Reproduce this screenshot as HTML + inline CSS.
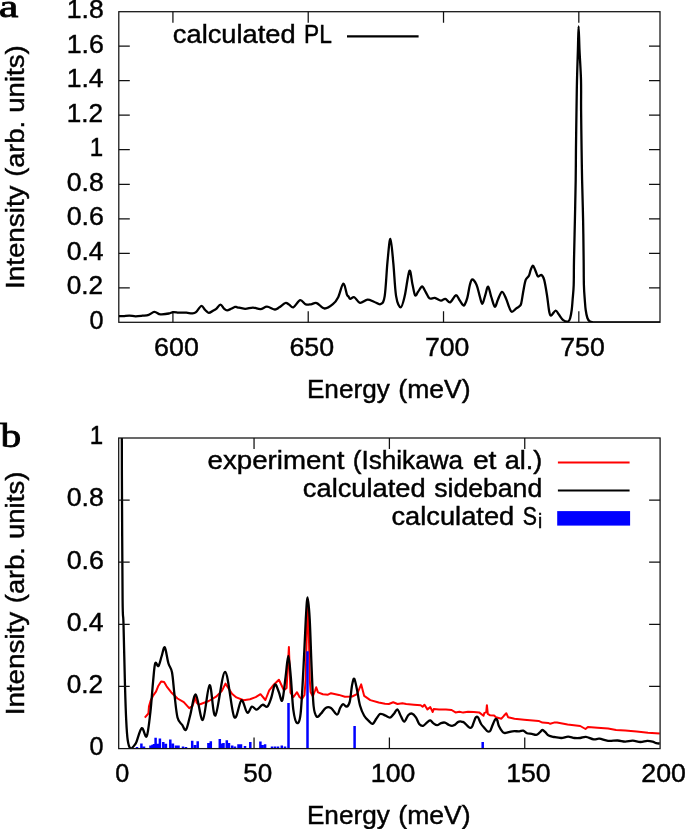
<!DOCTYPE html>
<html><head><meta charset="utf-8"><title>PL spectrum</title>
<style>html,body{margin:0;padding:0;background:#fff;width:685px;height:829px;overflow:hidden}svg{display:block}</style>
</head><body>
<svg width="685" height="829" viewBox="0 0 685 829">
<rect width="685" height="829" fill="#fff"/>
<path d="M172.92,322.30V311.30M172.92,11.70V22.70M308.22,322.30V311.30M308.22,11.70V22.70M443.52,322.30V311.30M443.52,11.70V22.70M578.82,322.30V311.30M578.82,11.70V22.70M118.80,287.79H129.80M660.00,287.79H649.00M118.80,253.28H129.80M660.00,253.28H649.00M118.80,218.77H129.80M660.00,218.77H649.00M118.80,184.26H129.80M660.00,184.26H649.00M118.80,149.74H129.80M660.00,149.74H649.00M118.80,115.23H129.80M660.00,115.23H649.00M118.80,80.72H129.80M660.00,80.72H649.00M118.80,46.21H129.80M660.00,46.21H649.00" stroke="#111" stroke-width="1.25" fill="none"/>
<rect x="118.80" y="11.70" width="541.20" height="310.60" stroke="#111" stroke-width="1.25" fill="none"/>
<clipPath id="ca"><rect x="118.8" y="11.7" width="541.2" height="310.6"/></clipPath>
<path d="M118.90,316.10 C119.63,316.10 121.55,316.18 123.30,316.10 C125.05,316.02 127.37,315.57 129.40,315.60 C131.43,315.63 133.32,316.28 135.50,316.30 C137.68,316.32 140.30,315.95 142.50,315.70 C144.70,315.45 146.73,315.43 148.70,314.80 C150.67,314.17 152.55,312.02 154.30,311.90 C156.05,311.78 157.95,313.68 159.20,314.10 C160.45,314.52 160.20,314.50 161.80,314.40 C163.40,314.30 166.90,313.88 168.80,313.50 C170.70,313.12 171.67,312.25 173.20,312.10 C174.73,311.95 176.82,312.50 178.00,312.60 C179.18,312.70 178.90,312.68 180.30,312.70 C181.70,312.72 184.43,312.58 186.40,312.70 C188.37,312.82 190.50,313.48 192.10,313.40 C193.70,313.32 194.47,313.43 196.00,312.20 C197.53,310.97 199.77,306.37 201.30,306.00 C202.83,305.63 203.97,308.85 205.20,310.00 C206.43,311.15 207.32,312.83 208.70,312.90 C210.08,312.97 212.25,311.08 213.50,310.40 C214.75,309.72 215.03,309.75 216.20,308.80 C217.37,307.85 219.20,304.73 220.50,304.70 C221.80,304.67 222.90,307.65 224.00,308.60 C225.10,309.55 225.92,310.37 227.10,310.40 C228.28,310.43 229.78,309.38 231.10,308.80 C232.42,308.22 233.97,307.15 235.00,306.90 C236.03,306.65 235.62,306.98 237.30,307.30 C238.98,307.62 242.48,308.75 245.10,308.80 C247.72,308.85 250.43,307.55 253.00,307.60 C255.57,307.65 258.17,309.25 260.50,309.10 C262.83,308.95 264.60,306.63 267.00,306.70 C269.40,306.77 272.85,309.40 274.90,309.50 C276.95,309.60 277.55,308.38 279.30,307.30 C281.05,306.22 283.78,303.47 285.40,303.00 C287.02,302.53 287.65,303.80 289.00,304.50 C290.35,305.20 291.65,307.92 293.50,307.20 C295.35,306.48 298.05,300.67 300.10,300.20 C302.15,299.73 303.98,303.72 305.80,304.40 C307.62,305.08 309.18,304.52 311.00,304.30 C312.82,304.08 314.43,302.40 316.70,303.10 C318.97,303.80 321.90,308.32 324.60,308.50 C327.30,308.68 330.63,306.08 332.90,304.20 C335.17,302.32 336.47,300.63 338.20,297.20 C339.93,293.77 341.85,284.05 343.30,283.60 C344.75,283.15 346.03,292.35 346.90,294.50 C347.77,296.65 347.93,295.77 348.50,296.50 C349.07,297.23 349.33,298.78 350.30,298.90 C351.27,299.02 352.68,296.53 354.30,297.20 C355.92,297.87 357.80,302.48 360.00,302.90 C362.20,303.32 365.10,299.85 367.50,299.70 C369.90,299.55 372.20,301.27 374.40,302.00 C376.60,302.73 378.98,305.08 380.70,304.10 C382.42,303.12 383.57,303.17 384.70,296.10 C385.83,289.03 386.55,271.25 387.50,261.70 C388.45,252.15 389.43,238.62 390.40,238.80 C391.37,238.98 392.35,253.25 393.30,262.80 C394.25,272.35 394.87,288.68 396.10,296.10 C397.33,303.52 399.27,307.30 400.70,307.30 C402.13,307.30 403.25,302.18 404.70,296.10 C406.15,290.02 408.12,272.83 409.40,270.80 C410.68,268.77 411.45,279.82 412.40,283.90 C413.35,287.98 414.15,293.98 415.10,295.30 C416.05,296.62 416.93,293.27 418.10,291.80 C419.27,290.33 420.85,286.50 422.10,286.50 C423.35,286.50 424.37,289.82 425.60,291.80 C426.83,293.78 427.97,297.38 429.50,298.40 C431.03,299.42 432.90,297.52 434.80,297.90 C436.70,298.28 439.15,300.55 440.90,300.70 C442.65,300.85 443.77,298.53 445.30,298.80 C446.83,299.07 448.35,302.88 450.10,302.30 C451.85,301.72 454.27,295.73 455.80,295.30 C457.33,294.87 458.13,298.12 459.30,299.70 C460.47,301.28 461.92,303.95 462.80,304.80 C463.68,305.65 463.85,305.95 464.60,304.80 C465.35,303.65 466.42,301.23 467.30,297.90 C468.18,294.57 469.07,287.87 469.90,284.80 C470.73,281.73 471.20,279.50 472.30,279.50 C473.40,279.50 475.30,282.17 476.50,284.80 C477.70,287.43 478.53,292.12 479.50,295.30 C480.47,298.48 481.35,303.90 482.30,303.90 C483.25,303.90 484.23,298.17 485.20,295.30 C486.17,292.43 487.08,286.42 488.10,286.70 C489.12,286.98 490.18,293.67 491.30,297.00 C492.42,300.33 493.70,306.25 494.80,306.70 C495.90,307.15 496.72,302.18 497.90,299.70 C499.08,297.22 500.58,292.10 501.90,291.80 C503.22,291.50 504.57,295.27 505.80,297.90 C507.03,300.53 508.28,305.27 509.30,307.60 C510.32,309.93 510.73,311.77 511.90,311.90 C513.07,312.03 515.05,309.35 516.30,308.40 C517.55,307.45 518.58,307.03 519.40,306.20 C520.22,305.37 520.53,305.98 521.20,303.40 C521.87,300.82 522.65,294.62 523.40,290.70 C524.15,286.78 524.78,282.38 525.70,279.90 C526.62,277.42 528.07,277.47 528.90,275.80 C529.73,274.13 530.03,271.60 530.70,269.90 C531.37,268.20 532.15,265.60 532.90,265.60 C533.65,265.60 534.37,268.10 535.20,269.90 C536.03,271.70 536.85,275.57 537.90,276.40 C538.95,277.23 540.45,274.32 541.50,274.90 C542.55,275.48 543.28,276.52 544.20,279.90 C545.12,283.28 546.17,289.93 547.00,295.20 C547.83,300.47 548.53,308.10 549.20,311.50 C549.87,314.90 549.93,315.75 551.00,315.60 C552.07,315.45 554.32,310.82 555.60,310.60 C556.88,310.38 557.43,312.72 558.70,314.30 C559.97,315.88 561.62,318.90 563.20,320.10 C564.78,321.30 567.03,321.85 568.20,321.50 C569.37,321.15 569.62,319.92 570.20,318.00 C570.78,316.08 571.30,313.00 571.70,310.00 C572.10,307.00 572.27,304.17 572.60,300.00 C572.93,295.83 573.47,291.67 573.70,285.00 C573.93,278.33 573.80,270.83 574.00,260.00 C574.20,249.17 574.62,233.33 574.90,220.00 C575.18,206.67 575.53,191.67 575.70,180.00 C575.88,168.33 575.82,161.67 575.95,150.00 C576.08,138.33 576.33,121.67 576.50,110.00 C576.67,98.33 576.77,90.00 577.00,80.00 C577.23,70.00 577.63,58.95 577.90,50.00 C578.17,41.05 578.33,26.30 578.60,26.30 C578.87,26.30 579.10,41.05 579.50,50.00 C579.90,58.95 580.73,70.00 581.00,80.00 C581.27,90.00 581.00,98.33 581.10,110.00 C581.20,121.67 581.43,138.33 581.60,150.00 C581.77,161.67 581.85,168.33 582.10,180.00 C582.35,191.67 582.84,206.67 583.10,220.00 C583.36,233.33 583.52,249.17 583.65,260.00 C583.78,270.83 583.71,278.33 583.90,285.00 C584.09,291.67 584.50,295.83 584.80,300.00 C585.10,304.17 585.27,307.00 585.70,310.00 C586.13,313.00 586.72,316.08 587.40,318.00 C588.08,319.92 588.87,320.78 589.80,321.50 C590.73,322.22 591.30,322.17 593.00,322.30 C594.70,322.43 588.67,322.30 600.00,322.30 C611.33,322.30 650.83,322.30 661.00,322.30" stroke="#000" stroke-width="2.3" fill="none" stroke-linejoin="round" clip-path="url(#ca)"/>
<path d="M347,36.4H418.6" stroke="#000" stroke-width="2.2"/>
<clipPath id="cb"><rect x="118.7" y="438.0" width="541.4" height="310.6"/></clipPath>
<path d="M144.80,717.70 L148.40,713.50 L149.00,706.20 L150.60,700.80 L153.30,695.30 L156.00,691.70 L158.10,686.30 L161.10,681.50 L164.10,682.10 L166.60,686.30 L171.10,692.20 L177.50,698.50 L183.80,702.10 L189.20,708.20 L192.50,706.00 L194.50,700.00 L195.70,696.80 L196.60,702.50 L198.50,704.50 L200.10,704.30 L208.80,701.00 L216.10,696.70 L221.90,690.90 L225.50,683.60 L232.00,693.80 L236.40,697.40 L243.60,700.30 L250.00,699.30 L255.70,697.10 L260.50,694.20 L265.40,700.00 L269.20,690.30 L274.00,684.50 L278.90,679.70 L283.90,690.20 L286.60,688.00 L288.90,647.00 L290.50,692.70 L293.50,697.00 L297.00,692.20 L299.50,697.00 L302.00,699.00 L304.50,695.00 L305.60,680.00 L306.40,650.00 L307.30,615.00 L308.00,599.70 L308.70,628.00 L309.30,655.00 L309.80,680.00 L310.60,692.00 L312.80,696.30 L315.10,690.50 L316.20,687.30 L318.00,692.40 L322.90,694.30 L328.00,694.70 L331.00,693.20 L338.90,694.90 L344.90,696.80 L352.10,696.50 L357.00,694.10 L361.20,684.40 L364.20,695.90 L370.30,700.10 L378.70,702.50 L385.00,703.80 L388.90,704.00 L393.20,702.30 L397.50,704.00 L402.40,703.30 L406.20,704.00 L413.90,704.70 L420.70,705.20 L422.60,706.70 L424.50,704.70 L427.40,709.40 L430.30,707.10 L432.70,712.00 L433.70,709.10 L439.00,709.40 L445.90,709.50 L451.60,710.00 L455.50,712.40 L459.40,711.70 L463.20,712.60 L468.00,711.70 L473.80,712.00 L479.10,712.40 L483.50,715.80 L484.40,712.90 L486.20,712.40 L486.90,705.20 L487.80,713.90 L490.20,715.30 L494.10,715.50 L496.00,717.30 L501.40,718.70 L503.90,715.80 L506.30,713.20 L508.20,717.30 L514.50,718.70 L524.10,719.70 L538.60,720.90 L542.40,722.60 L548.20,722.90 L550.20,723.80 L554.00,722.60 L557.00,722.60 L567.60,724.50 L580.20,726.00 L585.50,729.00 L587.90,726.90 L597.50,727.70 L608.10,728.60 L616.10,729.90 L625.20,730.60 L636.60,731.60 L648.00,732.70 L659.70,733.40" stroke="#f00" stroke-width="2.0" fill="none" stroke-linejoin="round" clip-path="url(#cb)"/>
<path d="M121.20,420.00 C121.30,422.97 121.68,428.63 121.80,437.80 C121.92,446.97 121.77,447.97 121.90,475.00 C122.03,502.03 122.33,575.17 122.60,600.00 C122.87,624.83 123.10,609.67 123.50,624.00 C123.90,638.33 124.55,670.00 125.00,686.00 C125.45,702.00 125.75,711.00 126.20,720.00 C126.65,729.00 127.00,735.27 127.70,740.00 C128.40,744.73 129.18,747.63 130.40,748.40 C131.62,749.17 133.95,745.80 135.00,744.60 C136.05,743.40 135.57,743.95 136.70,741.20 C137.83,738.45 140.13,728.92 141.80,728.10 C143.47,727.28 145.27,738.98 146.70,736.30 C148.13,733.62 149.33,721.17 150.40,712.00 C151.47,702.83 152.30,689.42 153.10,681.30 C153.90,673.18 154.30,665.85 155.20,663.30 C156.10,660.75 157.42,667.22 158.50,666.00 C159.58,664.78 160.65,659.10 161.70,656.00 C162.75,652.90 163.68,646.18 164.80,647.40 C165.92,648.62 167.20,659.15 168.40,663.30 C169.60,667.45 171.00,667.18 172.00,672.30 C173.00,677.42 173.48,686.47 174.40,694.00 C175.32,701.53 176.23,712.38 177.50,717.50 C178.77,722.62 180.58,722.65 182.00,724.70 C183.42,726.75 184.65,731.30 186.00,729.80 C187.35,728.30 188.47,721.58 190.10,715.70 C191.73,709.82 193.68,693.80 195.80,694.50 C197.92,695.20 200.50,721.47 202.80,719.90 C205.10,718.33 207.50,685.83 209.60,685.10 C211.70,684.37 212.82,717.68 215.40,715.50 C217.98,713.32 221.97,671.75 225.10,672.00 C228.23,672.25 231.48,712.28 234.20,717.00 C236.92,721.72 239.23,701.03 241.40,700.30 C243.57,699.57 245.45,711.53 247.20,712.60 C248.95,713.67 250.32,707.20 251.90,706.70 C253.48,706.20 254.93,709.92 256.70,709.60 C258.47,709.28 260.73,705.28 262.50,704.80 C264.27,704.32 265.85,707.83 267.30,706.70 C268.75,705.57 269.92,701.70 271.20,698.00 C272.48,694.30 273.72,685.45 275.00,684.50 C276.28,683.55 277.68,689.65 278.90,692.30 C280.12,694.95 281.18,702.98 282.30,700.40 C283.42,697.82 284.60,684.20 285.60,676.80 C286.60,669.40 287.43,656.00 288.30,656.00 C289.17,656.00 289.97,667.87 290.80,676.80 C291.63,685.73 292.27,701.90 293.30,709.60 C294.33,717.30 295.78,722.32 297.00,723.00 C298.22,723.68 299.52,722.98 300.60,713.70 C301.68,704.42 302.63,683.08 303.50,667.30 C304.37,651.52 305.12,630.63 305.80,619.00 C306.48,607.37 306.95,597.50 307.60,597.50 C308.25,597.50 309.03,607.37 309.70,619.00 C310.37,630.63 310.95,652.80 311.60,667.30 C312.25,681.80 312.75,697.78 313.60,706.00 C314.45,714.22 315.48,715.32 316.70,716.60 C317.92,717.88 319.40,715.15 320.90,713.70 C322.40,712.25 324.02,708.85 325.70,707.90 C327.38,706.95 329.10,706.88 331.00,708.00 C332.90,709.12 335.58,714.60 337.10,714.60 C338.62,714.60 339.10,709.75 340.10,708.00 C341.10,706.25 342.00,704.32 343.10,704.10 C344.20,703.88 345.60,707.07 346.70,706.70 C347.80,706.33 348.80,705.52 349.70,701.90 C350.60,698.28 351.33,688.87 352.10,685.00 C352.87,681.13 353.48,677.90 354.30,678.70 C355.12,679.50 356.05,685.33 357.00,689.80 C357.95,694.27 358.80,701.17 360.00,705.50 C361.20,709.83 362.70,713.18 364.20,715.80 C365.70,718.42 367.58,719.85 369.00,721.20 C370.42,722.55 371.48,724.30 372.70,723.90 C373.92,723.50 375.10,720.45 376.30,718.80 C377.50,717.15 378.70,714.70 379.90,714.00 C381.10,713.30 382.15,714.10 383.50,714.60 C384.85,715.10 386.78,716.55 388.00,717.00 C389.22,717.45 389.77,717.90 390.80,717.30 C391.83,716.70 393.08,714.70 394.20,713.40 C395.32,712.10 396.38,709.02 397.50,709.50 C398.62,709.98 399.77,714.28 400.90,716.30 C402.03,718.32 403.08,721.77 404.30,721.60 C405.52,721.43 406.92,716.63 408.20,715.30 C409.48,713.97 410.72,713.27 412.00,713.60 C413.28,713.93 414.70,715.57 415.90,717.30 C417.10,719.03 418.00,722.58 419.20,724.00 C420.40,725.42 421.73,726.12 423.10,725.80 C424.47,725.48 426.20,723.00 427.40,722.10 C428.60,721.20 429.33,720.23 430.30,720.40 C431.27,720.57 432.07,722.30 433.20,723.10 C434.33,723.90 435.80,725.20 437.10,725.20 C438.40,725.20 439.70,723.53 441.00,723.10 C442.30,722.67 443.57,722.28 444.90,722.60 C446.23,722.92 447.80,724.47 449.00,725.00 C450.20,725.53 451.10,725.83 452.10,725.80 C453.10,725.77 454.02,725.43 455.00,724.80 C455.98,724.17 457.12,722.57 458.00,722.00 C458.88,721.43 459.55,721.42 460.30,721.40 C461.05,721.38 461.85,721.70 462.50,721.90 C463.15,722.10 463.20,721.78 464.20,722.60 C465.20,723.42 467.45,725.92 468.50,726.80 C469.55,727.68 469.88,727.95 470.50,727.90 C471.12,727.85 471.65,727.47 472.20,726.50 C472.75,725.53 473.23,723.58 473.80,722.10 C474.37,720.62 475.08,718.52 475.60,717.60 C476.12,716.68 476.45,716.57 476.90,716.60 C477.35,716.63 477.60,716.57 478.30,717.80 C479.00,719.03 480.08,722.32 481.10,724.00 C482.12,725.68 483.42,726.73 484.40,727.90 C485.38,729.07 486.27,730.37 487.00,731.00 C487.73,731.63 488.22,731.78 488.80,731.70 C489.38,731.62 489.93,731.45 490.50,730.50 C491.07,729.55 491.48,727.75 492.20,726.00 C492.92,724.25 494.17,721.17 494.80,720.00 C495.43,718.83 495.58,718.95 496.00,719.00 C496.42,719.05 496.82,719.13 497.30,720.30 C497.78,721.47 497.97,724.02 498.90,726.00 C499.83,727.98 501.75,731.05 502.90,732.20 C504.05,733.35 504.20,733.05 505.80,732.90 C507.40,732.75 510.25,731.57 512.50,731.30 C514.75,731.03 517.52,731.42 519.30,731.30 C521.08,731.18 521.92,730.28 523.20,730.60 C524.48,730.92 525.57,732.65 527.00,733.20 C528.43,733.75 530.27,733.63 531.80,733.90 C533.33,734.17 534.92,735.00 536.20,734.80 C537.48,734.60 538.47,733.50 539.50,732.70 C540.53,731.90 541.43,730.08 542.40,730.00 C543.37,729.92 544.25,731.27 545.30,732.20 C546.35,733.13 547.25,734.80 548.70,735.60 C550.15,736.40 551.90,736.60 554.00,737.00 C556.10,737.40 558.95,738.07 561.30,738.00 C563.65,737.93 565.92,736.60 568.10,736.60 C570.28,736.60 572.38,737.77 574.40,738.00 C576.42,738.23 578.28,738.20 580.20,738.00 C582.12,737.80 583.65,736.58 585.90,736.80 C588.15,737.02 591.45,738.98 593.70,739.30 C595.95,739.62 597.00,738.43 599.40,738.70 C601.80,738.97 605.07,740.60 608.10,740.90 C611.13,741.20 614.75,740.38 617.60,740.50 C620.45,740.62 622.67,741.57 625.20,741.60 C627.73,741.63 630.27,740.63 632.80,740.70 C635.33,740.77 638.00,741.97 640.40,742.00 C642.80,742.03 645.18,740.97 647.20,740.90 C649.22,740.83 650.98,741.22 652.50,741.60 C654.02,741.98 655.10,742.88 656.30,743.20 C657.50,743.52 659.13,743.45 659.70,743.50" stroke="#000" stroke-width="2.3" fill="none" stroke-linejoin="round" clip-path="url(#cb)"/>
<path d="M137.00,748.60V746.90M141.40,748.60V743.40M144.00,748.60V746.50M150.50,748.60V745.50M152.50,748.60V744.70M154.00,748.60V744.00M155.60,748.60V737.70M157.60,748.60V743.80M159.90,748.60V738.60M163.30,748.60V742.10M165.90,748.60V743.80M170.30,748.60V739.50M172.90,748.60V743.40M176.00,748.60V745.60M178.50,748.60V745.60M183.00,748.60V746.50M186.00,748.60V746.90M192.20,748.60V740.80M195.00,748.60V745.10M197.70,748.60V741.20M208.40,748.60V743.00M210.80,748.60V741.20M219.80,748.60V739.00M222.00,748.60V743.40M223.50,748.60V743.00M226.80,748.60V740.30M229.00,748.60V743.00M232.20,748.60V745.60M235.00,748.60V746.50M238.50,748.60V744.30M241.00,748.60V744.30M245.00,748.60V746.00M250.30,748.60V742.10M260.40,748.60V741.60M262.50,748.60V745.00M265.10,748.60V744.30M272.00,748.60V746.50M275.00,748.60V746.50M278.00,748.60V746.50M281.80,748.60V745.60M285.00,748.60V746.50M288.50,748.60V703.00M307.50,748.60V651.20M354.60,748.60V726.10M482.70,748.60V741.90" stroke="#00f" stroke-width="2.5" fill="none"/>
<path d="M254.05,748.60V737.60M254.05,438.00V449.00M389.40,748.60V737.60M389.40,438.00V449.00M524.75,748.60V737.60M524.75,438.00V449.00M118.70,686.48H129.70M660.10,686.48H649.10M118.70,624.36H129.70M660.10,624.36H649.10M118.70,562.24H129.70M660.10,562.24H649.10M118.70,500.12H129.70M660.10,500.12H649.10" stroke="#111" stroke-width="1.25" fill="none"/>
<rect x="118.70" y="438.00" width="541.40" height="310.60" stroke="#111" stroke-width="1.25" fill="none"/>
<path d="M557.9,462.5H629.6" stroke="#f00" stroke-width="2.0"/>
<path d="M557.9,490.5H629.6" stroke="#000" stroke-width="2.2"/>
<rect x="557.2" y="511.1" width="72.9" height="14.5" fill="#00f"/>
<g opacity="0.999" stroke="#000" stroke-width="0.45">
<text x="172.88" y="42.70" font-family='"Liberation Sans", sans-serif' font-size="25.6" textLength="122.70" lengthAdjust="spacingAndGlyphs" fill="#000">calculated</text>
<text x="304.08" y="42.70" font-family='"Liberation Sans", sans-serif' font-size="25.6" textLength="27.84" lengthAdjust="spacingAndGlyphs" fill="#000">PL</text>
<text x="89.56" y="328.60" font-family='"Liberation Sans", sans-serif' font-size="25.6" textLength="14.01" lengthAdjust="spacingAndGlyphs" fill="#000">0</text>
<text x="66.72" y="294.09" font-family='"Liberation Sans", sans-serif' font-size="25.6" textLength="36.39" lengthAdjust="spacingAndGlyphs" fill="#000">0.2</text>
<text x="66.70" y="259.58" font-family='"Liberation Sans", sans-serif' font-size="25.6" textLength="36.90" lengthAdjust="spacingAndGlyphs" fill="#000">0.4</text>
<text x="66.70" y="225.07" font-family='"Liberation Sans", sans-serif' font-size="25.6" textLength="37.18" lengthAdjust="spacingAndGlyphs" fill="#000">0.6</text>
<text x="66.70" y="190.56" font-family='"Liberation Sans", sans-serif' font-size="25.6" textLength="37.02" lengthAdjust="spacingAndGlyphs" fill="#000">0.8</text>
<text x="89.76" y="156.04" font-family='"Liberation Sans", sans-serif' font-size="25.6" textLength="13.40" lengthAdjust="spacingAndGlyphs" fill="#000">1</text>
<text x="66.80" y="121.53" font-family='"Liberation Sans", sans-serif' font-size="25.6" textLength="36.30" lengthAdjust="spacingAndGlyphs" fill="#000">1.2</text>
<text x="66.77" y="87.02" font-family='"Liberation Sans", sans-serif' font-size="25.6" textLength="36.83" lengthAdjust="spacingAndGlyphs" fill="#000">1.4</text>
<text x="66.76" y="52.51" font-family='"Liberation Sans", sans-serif' font-size="25.6" textLength="37.12" lengthAdjust="spacingAndGlyphs" fill="#000">1.6</text>
<text x="66.77" y="18.00" font-family='"Liberation Sans", sans-serif' font-size="25.6" textLength="36.95" lengthAdjust="spacingAndGlyphs" fill="#000">1.8</text>
<text x="154.10" y="356.20" font-family='"Liberation Sans", sans-serif' font-size="25.6" textLength="44.72" lengthAdjust="spacingAndGlyphs" fill="#000">600</text>
<text x="289.40" y="356.20" font-family='"Liberation Sans", sans-serif' font-size="25.6" textLength="44.72" lengthAdjust="spacingAndGlyphs" fill="#000">650</text>
<text x="425.01" y="356.20" font-family='"Liberation Sans", sans-serif' font-size="25.6" textLength="44.40" lengthAdjust="spacingAndGlyphs" fill="#000">700</text>
<text x="560.31" y="356.20" font-family='"Liberation Sans", sans-serif' font-size="25.6" textLength="44.40" lengthAdjust="spacingAndGlyphs" fill="#000">750</text>
<text x="306.90" y="397.70" font-family='"Liberation Sans", sans-serif' font-size="25.6" textLength="82.86" lengthAdjust="spacingAndGlyphs" fill="#000">Energy</text>
<text x="398.36" y="397.70" font-family='"Liberation Sans", sans-serif' font-size="25.6" textLength="72.20" lengthAdjust="spacingAndGlyphs" fill="#000">(meV)</text>
<text transform="translate(23.60,286.50) rotate(-90)" x="-2.55" y="0" font-family='"Liberation Sans", sans-serif' font-size="25.6" textLength="103.59" lengthAdjust="spacingAndGlyphs">Intensity</text>
<text transform="translate(23.60,175.18) rotate(-90)" x="-1.70" y="0" font-family='"Liberation Sans", sans-serif' font-size="25.6" textLength="56.04" lengthAdjust="spacingAndGlyphs">(arb.</text>
<text transform="translate(23.60,111.02) rotate(-90)" x="-1.78" y="0" font-family='"Liberation Sans", sans-serif' font-size="25.6" textLength="67.45" lengthAdjust="spacingAndGlyphs">units)</text>
<text x="-1.00" y="17.00" font-family='"Liberation Serif", serif' font-size="32" stroke="#000" stroke-width="0.85" textLength="19.31" lengthAdjust="spacingAndGlyphs" fill="#000">a</text>
<text x="207.60" y="468.60" font-family='"Liberation Sans", sans-serif' font-size="25.6" textLength="136.74" lengthAdjust="spacingAndGlyphs" fill="#000">experiment</text>
<text x="352.77" y="468.60" font-family='"Liberation Sans", sans-serif' font-size="25.6" textLength="110.31" lengthAdjust="spacingAndGlyphs" fill="#000">(Ishikawa</text>
<text x="472.91" y="468.60" font-family='"Liberation Sans", sans-serif' font-size="25.6" textLength="23.58" lengthAdjust="spacingAndGlyphs" fill="#000">et</text>
<text x="504.78" y="468.60" font-family='"Liberation Sans", sans-serif' font-size="25.6" textLength="37.56" lengthAdjust="spacingAndGlyphs" fill="#000">al.)</text>
<text x="302.88" y="496.70" font-family='"Liberation Sans", sans-serif' font-size="25.6" textLength="122.70" lengthAdjust="spacingAndGlyphs" fill="#000">calculated</text>
<text x="434.17" y="496.70" font-family='"Liberation Sans", sans-serif' font-size="25.6" textLength="108.05" lengthAdjust="spacingAndGlyphs" fill="#000">sideband</text>
<text x="391.51" y="524.80" font-family='"Liberation Sans", sans-serif' font-size="25.6" textLength="122.70" lengthAdjust="spacingAndGlyphs" fill="#000">calculated</text>
<text x="522.81" y="524.80" font-family='"Liberation Sans", sans-serif' font-size="25.6" textLength="14.24" lengthAdjust="spacingAndGlyphs" fill="#000">S</text>
<text x="537.95" y="528.00" font-family='"Liberation Sans", sans-serif' font-size="20.480000000000004" textLength="4.19" lengthAdjust="spacingAndGlyphs" fill="#000">i</text>
<text x="89.56" y="754.90" font-family='"Liberation Sans", sans-serif' font-size="25.6" textLength="14.01" lengthAdjust="spacingAndGlyphs" fill="#000">0</text>
<text x="66.72" y="692.78" font-family='"Liberation Sans", sans-serif' font-size="25.6" textLength="36.39" lengthAdjust="spacingAndGlyphs" fill="#000">0.2</text>
<text x="66.70" y="630.66" font-family='"Liberation Sans", sans-serif' font-size="25.6" textLength="36.90" lengthAdjust="spacingAndGlyphs" fill="#000">0.4</text>
<text x="66.70" y="568.54" font-family='"Liberation Sans", sans-serif' font-size="25.6" textLength="37.18" lengthAdjust="spacingAndGlyphs" fill="#000">0.6</text>
<text x="66.70" y="506.42" font-family='"Liberation Sans", sans-serif' font-size="25.6" textLength="37.02" lengthAdjust="spacingAndGlyphs" fill="#000">0.8</text>
<text x="89.76" y="444.30" font-family='"Liberation Sans", sans-serif' font-size="25.6" textLength="13.40" lengthAdjust="spacingAndGlyphs" fill="#000">1</text>
<text x="115.36" y="782.40" font-family='"Liberation Sans", sans-serif' font-size="25.6" textLength="14.01" lengthAdjust="spacingAndGlyphs" fill="#000">0</text>
<text x="243.32" y="782.40" font-family='"Liberation Sans", sans-serif' font-size="25.6" textLength="29.01" lengthAdjust="spacingAndGlyphs" fill="#000">50</text>
<text x="370.86" y="782.40" font-family='"Liberation Sans", sans-serif' font-size="25.6" textLength="44.43" lengthAdjust="spacingAndGlyphs" fill="#000">100</text>
<text x="506.21" y="782.40" font-family='"Liberation Sans", sans-serif' font-size="25.6" textLength="44.43" lengthAdjust="spacingAndGlyphs" fill="#000">150</text>
<text x="641.38" y="782.40" font-family='"Liberation Sans", sans-serif' font-size="25.6" textLength="44.61" lengthAdjust="spacingAndGlyphs" fill="#000">200</text>
<text x="306.90" y="823.90" font-family='"Liberation Sans", sans-serif' font-size="25.6" textLength="82.86" lengthAdjust="spacingAndGlyphs" fill="#000">Energy</text>
<text x="398.36" y="823.90" font-family='"Liberation Sans", sans-serif' font-size="25.6" textLength="72.20" lengthAdjust="spacingAndGlyphs" fill="#000">(meV)</text>
<text transform="translate(23.60,712.80) rotate(-90)" x="-2.55" y="0" font-family='"Liberation Sans", sans-serif' font-size="25.6" textLength="103.59" lengthAdjust="spacingAndGlyphs">Intensity</text>
<text transform="translate(23.60,601.48) rotate(-90)" x="-1.70" y="0" font-family='"Liberation Sans", sans-serif' font-size="25.6" textLength="56.04" lengthAdjust="spacingAndGlyphs">(arb.</text>
<text transform="translate(23.60,537.32) rotate(-90)" x="-1.78" y="0" font-family='"Liberation Sans", sans-serif' font-size="25.6" textLength="67.45" lengthAdjust="spacingAndGlyphs">units)</text>
<text x="0.40" y="446.50" font-family='"Liberation Serif", serif' font-size="34" stroke="#000" stroke-width="0.85" textLength="20.68" lengthAdjust="spacingAndGlyphs" fill="#000">b</text>
</g>
</svg>
</body></html>
